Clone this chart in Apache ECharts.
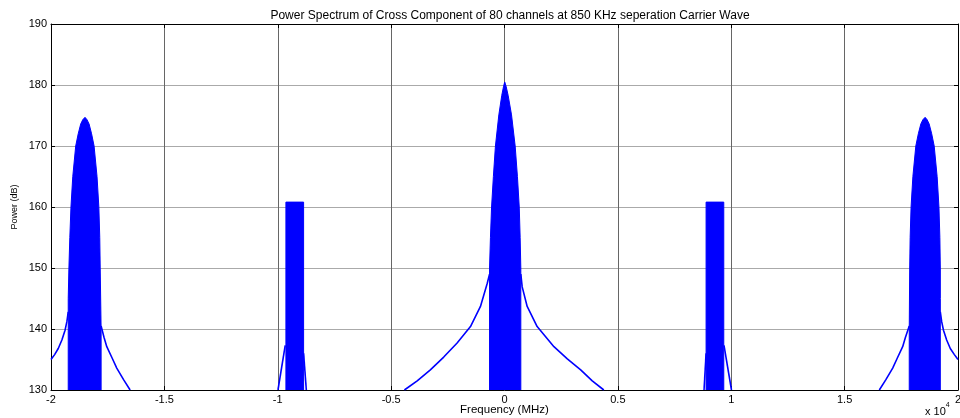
<!DOCTYPE html>
<html>
<head>
<meta charset="utf-8">
<script src="https://cdn.jsdelivr.net/npm/echarts@6/dist/echarts.min.js"></script>
<style>
  html, body { margin: 0; padding: 0; background: #fff; }
  #chart { width: 960px; height: 418px; }
</style>
</head>
<body>
<div id="chart"></div>
<script>
// x in units of 1e4, y in dB
const xTicks = [-2, -1.5, -1, -0.5, 0, 0.5, 1, 1.5, 2];
const yTicks = [130, 140, 150, 160, 170, 180, 190];

// filled lobes (upper envelope of the dense trace)
const lobeLeft = [[-1.924,130],[-1.924,145],[-1.921,150],[-1.917,155],[-1.912,160],[-1.904,165],[-1.891,170],[-1.880,172],[-1.869,173.6],[-1.860,174.3],[-1.850,174.7],[-1.841,174.3],[-1.832,173.6],[-1.821,172],[-1.810,170],[-1.797,165],[-1.789,160],[-1.785,155],[-1.783,150],[-1.779,140],[-1.779,130]];
const lobeCenter = [[-0.066,130],[-0.066,150],[-0.062,155],[-0.057,160],[-0.049,165],[-0.040,170],[-0.025,175.1],[-0.012,178.3],[-0.004,179.8],[0.001,180.5],[0.007,179.8],[0.016,178.3],[0.031,175.1],[0.047,170],[0.057,165],[0.065,160],[0.069,155],[0.072,150],[0.072,130]];
const lobeRight = [[1.785,130],[1.785,140],[1.787,150],[1.789,155],[1.793,160],[1.801,165],[1.814,170],[1.825,172],[1.836,173.6],[1.845,174.3],[1.855,174.7],[1.864,174.3],[1.873,173.6],[1.884,172],[1.895,170],[1.908,165],[1.916,160],[1.920,155],[1.922,150],[1.922,145],[1.922,130]];
const blockLeft = [[-0.964,130],[-0.964,160.8],[-0.886,160.8],[-0.886,130]];
const blockRight = [[0.889,130],[0.889,160.8],[0.967,160.8],[0.967,130]];

// thin skirts outside the lobes
const skirtLeftA = [[-2.0,135.0],[-1.984,135.8],[-1.968,136.8],[-1.952,138.2],[-1.938,139.8],[-1.930,141.2],[-1.924,142.8]];
const skirtLeftB = [[-1.779,140.5],[-1.766,138.6],[-1.754,137.1],[-1.730,135.2],[-1.710,133.6],[-1.680,131.7],[-1.651,130]];
const skirtCenterA = [[-0.4415,130],[-0.385,131.5],[-0.327,133.3],[-0.268,135.4],[-0.209,137.7],[-0.150,140.4],[-0.106,143.7],[-0.076,147.5],[-0.066,149]];
const skirtCenterB = [[0.072,149],[0.078,146.9],[0.100,143.7],[0.144,140.4],[0.218,137.1],[0.277,135.1],[0.336,133.3],[0.387,131.5],[0.438,130]];
const skirtRightA = [[1.653,130],[1.682,131.7],[1.712,133.6],[1.732,135.2],[1.756,137.1],[1.768,138.6],[1.785,140.5]];
const skirtRightB = [[1.922,142.8],[1.928,141.2],[1.936,139.8],[1.950,138.2],[1.966,136.8],[1.984,135.8],[2.0,135.0]];
const skirtBlockA = [[-0.999,130],[-0.967,137.3]];
const skirtBlockB = [[-0.886,136],[-0.874,130]];
const skirtBlockC = [[0.880,130],[0.889,136]];
const skirtBlockD = [[0.968,137.3],[1.001,130]];

const BLUE = '#0000ff';
const FONT = 'Liberation Sans';

const filled = [lobeLeft, lobeCenter, lobeRight, blockLeft, blockRight].map(d => ({
    type: 'line', data: d, symbol: 'none', silent: true,
    lineStyle: { color: BLUE, width: 1 },
    areaStyle: { color: BLUE, opacity: 1, origin: 'start' }
}));
const skirts = [skirtLeftA, skirtLeftB, skirtCenterA, skirtCenterB, skirtRightA, skirtRightB,
    skirtBlockA, skirtBlockB, skirtBlockC, skirtBlockD].map(d => ({
    type: 'line', data: d, symbol: 'none', silent: true,
    lineStyle: { color: BLUE, width: 1.6 }
}));

const xBase = {
    type: 'value', min: xTicks[0], max: xTicks[xTicks.length - 1], interval: 0.5,
    axisLine: { show: true, onZero: false, lineStyle: { color: '#000', width: 1 } },
    axisTick: { show: true, inside: true, length: 4, lineStyle: { color: '#000' } }
};
const yBase = {
    type: 'value', min: yTicks[0], max: yTicks[yTicks.length - 1], interval: 10,
    axisLine: { show: true, onZero: false, lineStyle: { color: '#000', width: 1 } },
    axisTick: { show: true, inside: true, length: 4, lineStyle: { color: '#000' } }
};

const chart = echarts.init(document.getElementById('chart'));
chart.setOption({
    animation: false,
    backgroundColor: '#fff',
    title: {
        text: 'Power Spectrum of Cross Component of 80 channels at 850 KHz seperation Carrier Wave',
        left: 505, top: 5, textAlign: 'center',
        textStyle: { fontFamily: FONT, fontSize: 12, fontWeight: 'normal', color: '#000' }
    },
    grid: { left: 51, right: 2, top: 24, bottom: 28, containLabel: false, outerBoundsMode: 'none' },
    xAxis: [
        Object.assign({}, xBase, {
            position: 'bottom',
            name: 'Frequency (MHz)', nameLocation: 'middle', nameGap: 14, nameMoveOverlap: false,
            nameTextStyle: { fontFamily: FONT, fontSize: 11.5, color: '#000' },
            axisLabel: { fontFamily: FONT, fontSize: 11, color: '#000', margin: 4 },
            splitLine: { show: true, lineStyle: { color: '#666', width: 1 } }
        }),
        Object.assign({}, xBase, { position: 'top', axisLabel: { show: false }, splitLine: { show: false } })
    ],
    yAxis: [
        Object.assign({}, yBase, {
            position: 'left',
            name: 'Power (dB)', nameLocation: 'middle', nameGap: 32, nameMoveOverlap: false,
            nameTextStyle: { fontFamily: FONT, fontSize: 9, color: '#000' },
            axisLabel: { fontFamily: FONT, fontSize: 11, color: '#000', margin: 4 },
            splitLine: { show: true, lineStyle: { color: '#aaa', width: 1 } }
        }),
        Object.assign({}, yBase, { position: 'right', axisLabel: { show: false }, splitLine: { show: false } })
    ],
    graphic: [{
        type: 'text', left: 925, top: 402,
        style: {
            text: '{a|x 10}{b|4}',
            rich: {
                a: { fontFamily: FONT, fontSize: 11, fill: '#000', padding: [4, 0, 0, 0] },
                b: { fontFamily: FONT, fontSize: 7, fill: '#000', verticalAlign: 'top' }
            }
        }
    }],
    series: skirts.concat(filled)
});
</script>
</body>
</html>
